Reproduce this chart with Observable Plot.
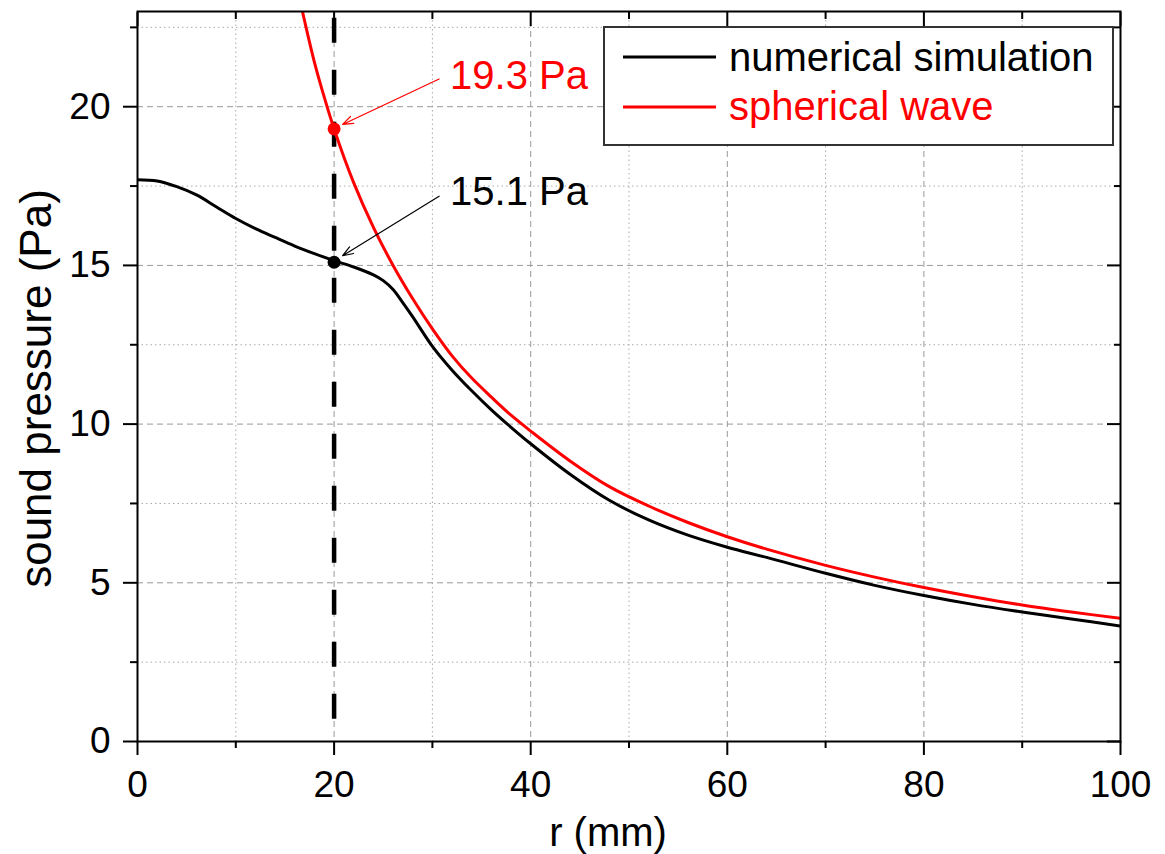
<!DOCTYPE html>
<html><head><meta charset="utf-8">
<script src="https://cdn.jsdelivr.net/npm/d3@7"></script>
<script src="https://cdn.jsdelivr.net/npm/@observablehq/plot@0.6"></script>
<style>
html,body{margin:0;padding:0;background:#fff;}
#chart{width:1165px;height:854px;}
</style></head><body><div id="chart"></div>
<script>
// ---- data ----
const simR = [0, 2, 4, 6, 8, 10, 12, 14, 16, 18, 20, 22, 24, 25, 26, 27, 28, 30, 32, 34, 36, 38, 40, 44, 48, 52, 56, 60, 64, 70, 75, 80, 85, 90, 95, 100];
const simP = [17.7, 17.66, 17.48, 17.22, 16.85, 16.48, 16.16, 15.88, 15.61, 15.37, 15.15, 14.95, 14.7, 14.52, 14.24, 13.82, 13.38, 12.45, 11.7, 11.05, 10.45, 9.9, 9.38, 8.42, 7.6, 6.98, 6.5, 6.12, 5.8, 5.3, 4.92, 4.6, 4.32, 4.08, 3.86, 3.64];
const sphR = [16.5, 17, 18, 19, 20, 22, 24, 26, 28, 30, 32, 34, 36, 38, 40, 44, 48, 52, 56, 60, 64, 70, 75, 80, 85, 90, 95, 100];
const sphP = [23.4, 22.7, 21.4, 20.3, 19.3, 17.6, 16.2, 15.0, 13.95, 13.0, 12.15, 11.45, 10.85, 10.28, 9.78, 8.84, 8.03, 7.42, 6.9, 6.45, 6.06, 5.55, 5.18, 4.85, 4.56, 4.3, 4.08, 3.88];
const seriesNames = ["numerical simulation", "spherical wave"];
const seriesColors = ["#000000", "#ff0000"];
const markR = 20;                 // r (mm) of the marked points
const markP = [15.1, 19.3];       // Pa, one per series
const xMajor = [0, 20, 40, 60, 80, 100];
const xMinor = [10, 30, 50, 70, 90];
const yMajor = [0, 5, 10, 15, 20];
const yMinor = [2.5, 7.5, 12.5, 17.5, 22.5];
const xLabel = "r (mm)";
const yLabel = "sound pressure (Pa)";

// ---- tables ----
const rows = [
  ...simR.map((r, i) => ({r, p: simP[i], s: seriesNames[0]})),
  ...sphR.map((r, i) => ({r, p: sphP[i], s: seriesNames[1]}))
];
const points = markP.map((p, i) => ({r: markR, p, s: seriesNames[i]}));

const W = 1165, H = 854;
const mL = 137, mR = 45, mT = 11, mB = 113;
const xDom = [0, 100], yDom = [0, 23];
// pixel -> data unit factors for annotation offsets
const kx = (xDom[1] - xDom[0]) / (W - mL - mR);
const ky = (yDom[1] - yDom[0]) / (H - mT - mB);
const arrowOff = [ // [startDx, startDy, endDx, endDy] in px
  [105, -66, 8.5, -6.5],
  [105, -50, 8.5, -4.5]
];
const font = "'Liberation Sans', Arial, Helvetica, sans-serif";
const gridMinor = {stroke: "#aaa", strokeOpacity: 1, strokeWidth: 1, strokeDasharray: "1.5,3"};
const gridMajor = {stroke: "#999", strokeOpacity: 1, strokeWidth: 1, strokeDasharray: "6,4"};

const plot = Plot.plot({
  width: W, height: H,
  marginLeft: mL, marginRight: mR, marginTop: mT, marginBottom: mB,
  style: {fontFamily: font, fontSize: "37px", color: "#000", background: "#fff", overflow: "visible"},
  x: {domain: xDom, label: null},
  y: {domain: yDom, label: null},
  color: {domain: seriesNames, range: seriesColors},
  marks: [
    Plot.gridY(yMinor, gridMinor),
    Plot.gridX(xMinor, gridMinor),
    Plot.gridY(yMajor.filter(v => v > 0), gridMajor),
    Plot.gridX(xMajor.filter(v => v > 0 && v < 100), gridMajor),
    Plot.ruleX([markR], {y1: 0.7, y2: yDom[1], stroke: "#000", strokeWidth: 4.5, strokeDasharray: "25,27"}),
    Plot.line(rows, {x: "r", y: "p", z: "s", stroke: "s", strokeWidth: 3, curve: "catmull-rom", clip: true}),
    Plot.arrow(points, {
      x1: (d, i) => d.r + arrowOff[i][0] * kx, y1: (d, i) => d.p - arrowOff[i][1] * ky,
      x2: (d, i) => d.r + arrowOff[i][2] * kx, y2: (d, i) => d.p - arrowOff[i][3] * ky,
      stroke: "s", strokeWidth: 1.2, headLength: 14, headAngle: 40
    }),
    Plot.dot(points, {x: "r", y: "p", r: 6.5, fill: "s"}),
    Plot.text(points.slice(0, 1), {x: "r", y: "p", text: d => `${d.p.toFixed(1)} Pa`, fill: "s", textAnchor: "start", lineAnchor: "bottom", dx: 116, dy: -57, fontSize: 40}),
    Plot.text(points.slice(1, 2), {x: "r", y: "p", text: d => `${d.p.toFixed(1)} Pa`, fill: "s", textAnchor: "start", lineAnchor: "bottom", dx: 116, dy: -40, fontSize: 40}),
    Plot.frame({stroke: "#000", strokeWidth: 2}),
    Plot.axisY(yMajor, {tickSize: 14, tickPadding: 13, fontSize: 37, strokeWidth: 2, label: null}),
    Plot.axisY(yMinor, {tickSize: 7, strokeWidth: 2, tickFormat: () => "", label: null}),
    Plot.axisY(yMajor, {anchor: "right", tickSize: -14, strokeWidth: 2, tickFormat: () => "", label: null}),
    Plot.axisY(yMinor, {anchor: "right", tickSize: -7, strokeWidth: 2, tickFormat: () => "", label: null}),
    Plot.axisX(xMajor, {tickSize: 14, tickPadding: 15, fontSize: 37, strokeWidth: 2, label: null}),
    Plot.axisX(xMinor, {tickSize: 7, strokeWidth: 2, tickFormat: () => "", label: null}),
    Plot.axisX(xMajor, {anchor: "top", tickSize: -14, strokeWidth: 2, tickFormat: () => "", label: null}),
    Plot.axisX(xMinor, {anchor: "top", tickSize: -7, strokeWidth: 2, tickFormat: () => "", label: null}),
    Plot.text([xLabel], {frameAnchor: "bottom", textAnchor: "middle", lineAnchor: "bottom", dx: -21, dy: 104, fontSize: 40}),
    Plot.text([yLabel], {frameAnchor: "left", textAnchor: "middle", rotate: -90, dx: -101, dy: 12, fontSize: 44})
  ]
});

// legend inside the plot (top-right), drawn into the same SVG
const svg = d3.select(plot);
const lg = svg.append("g").attr("font-family", font).attr("font-size", 40).attr("text-anchor", "start");
lg.append("rect").attr("x", 604).attr("y", 27).attr("width", 509).attr("height", 118)
  .attr("fill", "#fff").attr("stroke", "#333").attr("stroke-width", 2);
seriesNames.forEach((name, i) => {
  const cy = 57 + i * 50;
  lg.append("line").attr("x1", 623).attr("x2", 716).attr("y1", cy).attr("y2", cy)
    .attr("stroke", seriesColors[i]).attr("stroke-width", 3);
  lg.append("text").attr("x", 729).attr("y", 71 + i * 49).attr("text-anchor", "start")
    .attr("fill", seriesColors[i]).text(name);
});

document.getElementById("chart").appendChild(plot);
</script>
</body></html>
